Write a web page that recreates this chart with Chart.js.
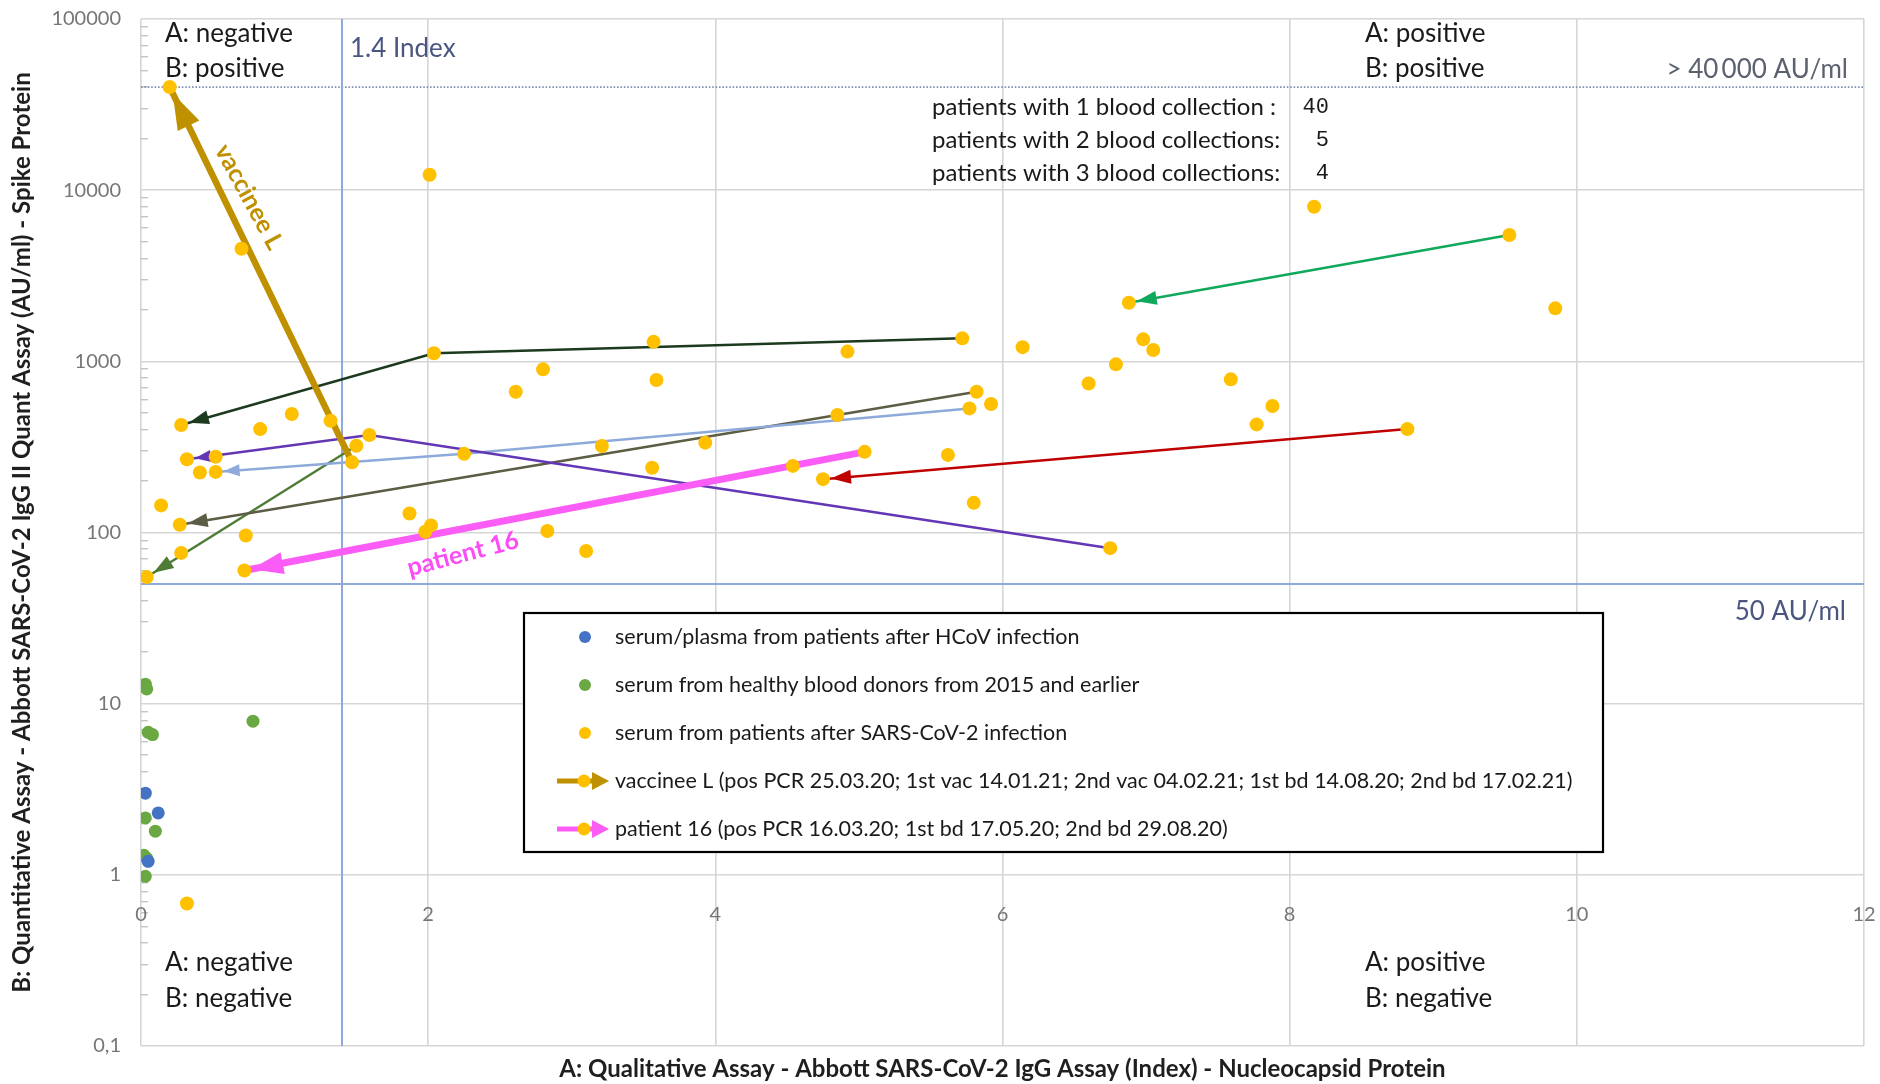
<!DOCTYPE html>
<html>
<head>
<meta charset="utf-8">
<title>Abbott IgG Index vs. Spike AU/ml</title>
<script src="https://cdn.jsdelivr.net/npm/chart.js@4.4.1/dist/chart.umd.min.js"></script>
<style>
  html, body { margin: 0; padding: 0; background: #ffffff; }
  #wrap { width: 1880px; height: 1084px; position: relative; }
</style>
</head>
<body>
<div id="wrap"><canvas id="chart"></canvas></div>
<script>
// ---- axis settings ----
const xMin = 0, xMax = 12, xStep = 2;
const yMin = 0.1, yMax = 100000;

// ---- cut-off values ----
const indexCutoff = 1.4;      // qualitative assay, Index
const auCutoff = 50;          // quantitative assay, AU/ml
const auUpperLimit = 40000;   // upper measuring limit, AU/ml

// ---- serum/plasma after HCoV infection ----
const hcovIndex = [0.03, 0.12, 0.05];
const hcovAU    = [3.0, 2.3, 1.2];

// ---- healthy blood donors (2015 and earlier) ----
const donorIndex = [0.03, 0.04, 0.78, 0.05, 0.08, 0.03, 0.10, 0.02, 0.04, 0.03];
const donorAU    = [13.0, 12.2, 7.9, 6.8, 6.6, 2.15, 1.8, 1.3, 1.25, 0.98];

// ---- SARS-CoV-2 patients with a single blood collection ----
const singleIndex = [2.01, 0.70, 8.17, 9.85, 6.98, 7.05, 6.79, 6.60, 7.59, 7.88,
                     7.77, 6.14, 4.92, 3.57, 3.59, 2.80, 2.61, 5.92, 3.93, 3.21,
                     5.62, 4.54, 3.56, 5.80, 1.87, 2.02, 1.98, 2.83, 3.10, 0.83,
                     1.05, 1.32, 0.52, 0.41, 0.14, 0.28, 0.73, 0.32];
const singleAU    = [12300, 4550, 8000, 2040, 1344, 1164, 960, 742, 785, 548,
                     428, 1210, 1140, 1300, 778, 898, 664, 563, 335, 320,
                     284, 245, 239, 149, 129, 110, 101, 102, 78, 402,
                     492, 450, 277, 224, 144, 76, 96, 0.68];

// ---- follow-up patients, first -> last blood collection ----
const followA_index = [5.72, 2.04, 0.28];  const followA_au = [1362, 1114, 425];
const followB_index = [6.75, 1.59, 0.32];  const followB_au = [81, 371, 268];
const followC_index = [5.77, 2.25, 0.52];  const followC_au = [531, 288, 226];
const followD_index = [5.82, 4.85, 0.27];  const followD_au = [664, 486, 111];
const followE_index = [1.50, 0.04];        const followE_au = [321, 55];
const followF_index = [8.82, 4.75];        const followF_au = [402, 205];
const followG_index = [9.53, 6.88];        const followG_au = [5470, 2200];
const vaccineeL_index = [1.47, 0.20];      const vaccineeL_au = [257, 40000];
const patient16_index = [5.04, 0.72];      const patient16_au = [296, 60];

// ---- text ----
const collectionLabels = ['patients with 1 blood collection :',
                          'patients with 2 blood collections:',
                          'patients with 3 blood collections:'];
const collectionCounts = [40, 5, 4];
const quadrantCaptions = [['A: negative', 'B: positive'], ['A: positive', 'B: positive'],
                          ['A: negative', 'B: negative'], ['A: positive', 'B: negative']];

const pts = (xs, ys) => xs.map((x, i) => ({ x: x, y: ys[i] }));

const ORANGE = '#ffc000';
const FONT = 'Lato, "Liberation Sans", sans-serif';

const followSeries = [
  { xs: followA_index, ys: followA_au, color: '#1c3a1e', width: 2.5, head: [20, 7] },
  { xs: followB_index, ys: followB_au, color: '#6236b5', width: 2.5, head: [16, 6] },
  { xs: followC_index, ys: followC_au, color: '#8eaadb', width: 2.5, head: [16, 6] },
  { xs: followD_index, ys: followD_au, color: '#5d5d45', width: 2.5, head: [20, 7] },
  { xs: followE_index, ys: followE_au, color: '#4e7c36', width: 2.5, head: [20, 7] },
  { xs: followF_index, ys: followF_au, color: '#c00000', width: 2.5, head: [20, 7] },
  { xs: followG_index, ys: followG_au, color: '#10a85a', width: 2.5, head: [20, 7] }
];

const allSarsIndex = singleIndex.concat(...followSeries.map(s => s.xs), vaccineeL_index, patient16_index);
const allSarsAU = singleAU.concat(...followSeries.map(s => s.ys), vaccineeL_au, patient16_au);

const datasets = [
  { label: 'serum/plasma from patients after HCoV infection', data: pts(hcovIndex, hcovAU),
    backgroundColor: '#4472c4', pointRadius: 6.5, borderWidth: 0, legendRow: 0, legendType: 'dot' },
  { label: 'serum from healthy blood donors from 2015 and earlier', data: pts(donorIndex, donorAU),
    backgroundColor: '#6aa844', pointRadius: 6.5, borderWidth: 0, legendRow: 1, legendType: 'dot' },
  { label: 'serum from patients after SARS-CoV-2 infection', data: pts(allSarsIndex, allSarsAU),
    backgroundColor: ORANGE, pointRadius: 7, borderWidth: 0, legendRow: 2, legendType: 'dot' },
  { label: 'vaccinee L (pos PCR 25.03.20; 1st vac 14.01.21; 2nd vac 04.02.21; 1st bd 14.08.20; 2nd bd 17.02.21)',
    data: pts(vaccineeL_index, vaccineeL_au), showLine: true, borderColor: '#bf9000', borderWidth: 6.5,
    pointRadius: 0, arrow: { len: 36, half: 12, gap: 7 }, legendRow: 3, legendType: 'arrow' },
  { label: 'patient 16 (pos PCR 16.03.20; 1st bd 17.05.20; 2nd bd 29.08.20)',
    data: pts(patient16_index, patient16_au), showLine: true, borderColor: '#fb5cf5', borderWidth: 7,
    pointRadius: 0, arrow: { len: 32, half: 11, gap: 7 }, legendRow: 4, legendType: 'arrow' }
];

followSeries.forEach((s, i) => datasets.push({
  label: 'follow-up ' + (i + 1), data: pts(s.xs, s.ys), showLine: true,
  borderColor: s.color, borderWidth: s.width, pointRadius: 0,
  arrow: { len: s.head[0], half: s.head[1], gap: 8 }
}));

// cut-off reference lines
datasets.push(
  { label: 'index cut-off', data: [{ x: indexCutoff, y: yMin }, { x: indexCutoff, y: yMax }],
    showLine: true, borderColor: '#8eaadb', borderWidth: 2, pointRadius: 0 },
  { label: 'AU cut-off', data: [{ x: xMin, y: auCutoff }, { x: xMax, y: auCutoff }],
    showLine: true, borderColor: '#8eaadb', borderWidth: 2, pointRadius: 0 },
  { label: 'upper limit', data: [{ x: xMin, y: auUpperLimit }, { x: xMax, y: auUpperLimit }],
    showLine: true, borderColor: '#8092b4', borderWidth: 1.6, borderDash: [1.6, 1.8], pointRadius: 0 }
);

function drawHead(ctx, tipX, tipY, ux, uy, len, half, color) {
  const bx = tipX - ux * len, by = tipY - uy * len;
  ctx.beginPath();
  ctx.moveTo(tipX, tipY);
  ctx.lineTo(bx - uy * half, by + ux * half);
  ctx.lineTo(bx + uy * half, by - ux * half);
  ctx.closePath();
  ctx.fillStyle = color;
  ctx.fill();
}

// arrowheads at the last collection of each follow-up line
const arrowHeads = {
  id: 'arrowHeads',
  afterDatasetDraw(chart, args) {
    const ds = chart.data.datasets[args.index];
    if (!ds.arrow) return;
    const el = args.meta.data;
    const a = el[el.length - 2], b = el[el.length - 1];
    const dx = b.x - a.x, dy = b.y - a.y, d = Math.hypot(dx, dy);
    const ux = dx / d, uy = dy / d;
    const ctx = chart.ctx;
    ctx.save();
    drawHead(ctx, b.x - ux * ds.arrow.gap, b.y - uy * ds.arrow.gap, ux, uy,
             ds.arrow.len, ds.arrow.half, ds.borderColor);
    ctx.restore();
  }
};

// captions, cut-off labels and the sample counts
const plotText = {
  id: 'plotText',
  afterDatasetsDraw(chart) {
    const { ctx, chartArea: ca, scales } = chart;
    const xs = scales.x, ys = scales.y;
    ctx.save();
    ctx.textBaseline = 'middle';
    ctx.textAlign = 'left';

    ctx.font = '26px ' + FONT;
    ctx.fillStyle = '#1a1a1a';
    const qx = [ca.left + 24, ca.left + 1224];
    const qy = [[ca.top + 15, ca.top + 50], [ca.bottom - 83, ca.bottom - 47]];
    quadrantCaptions.forEach((lines, i) => {
      const col = i % 2, row = Math.floor(i / 2);
      lines.forEach((t, j) => ctx.fillText(t, qx[col], qy[row][j]));
    });

    ctx.font = '26px ' + FONT;
    ctx.fillStyle = '#4a5680';
    ctx.fillText(indexCutoff + ' Index', xs.getPixelForValue(indexCutoff) + 8, ca.top + 30);

    ctx.textAlign = 'right';
    ctx.fillStyle = '#5c6170';
    ctx.fillText('> 40\u2009000 AU/ml', ca.right - 16, ys.getPixelForValue(auUpperLimit) - 18);
    ctx.fillStyle = '#4a5680';
    ctx.fillText(auCutoff + ' AU/ml', ca.right - 18, ys.getPixelForValue(auCutoff) + 28);

    ctx.textAlign = 'left';
    ctx.fillStyle = '#1a1a1a';
    const rowY = [107, 140, 173];
    collectionLabels.forEach((t, i) => {
      ctx.font = '24px ' + FONT;
      ctx.textAlign = 'left';
      ctx.fillText(t, 932, rowY[i]);
      ctx.font = '22px "Liberation Mono", "DejaVu Sans Mono", monospace';
      ctx.textAlign = 'right';
      ctx.fillText(String(collectionCounts[i]), 1329, rowY[i]);
    });

    // labels on the two highlighted courses
    ctx.font = 'bold 25px ' + FONT;
    ctx.textAlign = 'center';
    ctx.save();
    ctx.translate(249, 197);
    ctx.rotate(61.5 * Math.PI / 180);
    ctx.fillStyle = '#bf9000';
    ctx.fillText('vaccinee L', 0, 0);
    ctx.restore();
    ctx.save();
    ctx.translate(463, 554);
    ctx.rotate(-14.7 * Math.PI / 180);
    ctx.fillStyle = '#fb4cf5';
    ctx.fillText('patient 16', 0, 0);
    ctx.restore();
    ctx.restore();
  }
};

// boxed legend inside the plot area
const boxedLegend = {
  id: 'boxedLegend',
  afterDraw(chart) {
    const ctx = chart.ctx;
    const box = { x: 524, y: 613, w: 1079, h: 239 };
    ctx.save();
    ctx.fillStyle = '#ffffff';
    ctx.fillRect(box.x, box.y, box.w, box.h);
    ctx.lineWidth = 2.2;
    ctx.strokeStyle = '#000000';
    ctx.strokeRect(box.x, box.y, box.w, box.h);
    ctx.font = '21.5px ' + FONT;
    ctx.textBaseline = 'middle';
    ctx.textAlign = 'left';
    chart.data.datasets.forEach(ds => {
      if (ds.legendRow === undefined) return;
      const cy = box.y + 24 + ds.legendRow * 48;
      if (ds.legendType === 'dot') {
        ctx.beginPath();
        ctx.arc(585, cy, 6, 0, Math.PI * 2);
        ctx.fillStyle = ds.backgroundColor;
        ctx.fill();
      } else {
        ctx.beginPath();
        ctx.moveTo(557, cy);
        ctx.lineTo(594, cy);
        ctx.lineWidth = 5;
        ctx.strokeStyle = ds.borderColor;
        ctx.stroke();
        drawHead(ctx, 609, cy, 1, 0, 17, 9, ds.borderColor);
        ctx.beginPath();
        ctx.arc(584, cy, 6.5, 0, Math.PI * 2);
        ctx.fillStyle = ORANGE;
        ctx.fill();
      }
      ctx.fillStyle = '#1a1a1a';
      ctx.fillText(ds.label, 615, cy);
    });
    ctx.restore();
  }
};

const gridColor = '#d6d6d6';
const tickColor = '#767676';

// keep tick-label overhang from shrinking the plot area
const noOverhang = s => { s.paddingLeft = 0; s.paddingRight = 0; s.paddingTop = 0; s.paddingBottom = 0; };

new Chart(document.getElementById('chart'), {
  type: 'scatter',
  data: { datasets: datasets },
  options: {
    responsive: true,
    maintainAspectRatio: false,
    animation: false,
    events: [],
    layout: { padding: { left: 0, right: 16, top: 19, bottom: 0 } },
    plugins: { legend: { display: false }, tooltip: { enabled: false } },
    scales: {
      x: {
        type: 'linear', axis: 'x', position: 'bottom', min: xMin, max: xMax,
        ticks: { display: false, stepSize: xStep },
        grid: { color: gridColor, lineWidth: 1.6, drawTicks: false },
        border: { display: false },
        title: {
          display: true,
          text: 'A: Qualitative Assay - Abbott SARS-CoV-2 IgG Assay (Index) - Nucleocapsid Protein',
          font: { family: FONT, size: 24, weight: 'bold' }, color: '#1f1f1f',
          padding: { top: 0, bottom: 0 }
        },
        afterFit: s => { s.height = 38; noOverhang(s); }
      },
      xLabels: {
        type: 'linear', axis: 'x', position: { y: 1 }, min: xMin, max: xMax,
        ticks: { stepSize: xStep, color: tickColor, padding: 20, font: { family: FONT, size: 20 } },
        grid: { display: false },
        border: { display: false },
        afterFit: s => { s.height = 0; noOverhang(s); }
      },
      y: {
        type: 'logarithmic', axis: 'y', position: 'left', min: yMin, max: yMax,
        afterBuildTicks: s => {
          s.ticks = s.ticks.filter(t => Math.abs(Math.log10(t.value) - Math.round(Math.log10(t.value))) < 1e-9);
        },
        ticks: {
          autoSkip: false, color: tickColor, padding: 20, font: { family: FONT, size: 20 },
          callback: v => (v < 1 ? String(v).replace('.', ',') : String(v))
        },
        grid: { color: gridColor, lineWidth: 1.6, drawTicks: false },
        border: { display: false },
        title: {
          display: true,
          text: 'B: Quantitative Assay - Abbott SARS-CoV-2 IgG II Quant Assay (AU/ml) - Spike Protein',
          font: { family: FONT, size: 24, weight: 'bold' }, color: '#1f1f1f',
          padding: { top: 8, bottom: 0 }
        },
        afterFit: s => { s.width = 141; noOverhang(s); }
      },
      yMinor: {
        type: 'logarithmic', axis: 'y', position: { x: 0 }, min: yMin, max: yMax,
        afterBuildTicks: s => {
          s.ticks = s.ticks.filter(t => {
            const e = Math.floor(Math.log10(t.value) + 1e-9);
            const m = t.value / Math.pow(10, e);
            const r = Math.round(m);
            return Math.abs(m - r) < 1e-6 && r >= 2 && r <= 9;
          });
        },
        ticks: { display: false, autoSkip: false },
        grid: { drawOnChartArea: false, drawTicks: true, tickLength: -7, color: '#c4c4c4', lineWidth: 1.4 },
        border: { display: false },
        afterFit: s => { s.width = 0; noOverhang(s); }
      }
    }
  },
  plugins: [arrowHeads, plotText, boxedLegend]
});
</script>
</body>
</html>
